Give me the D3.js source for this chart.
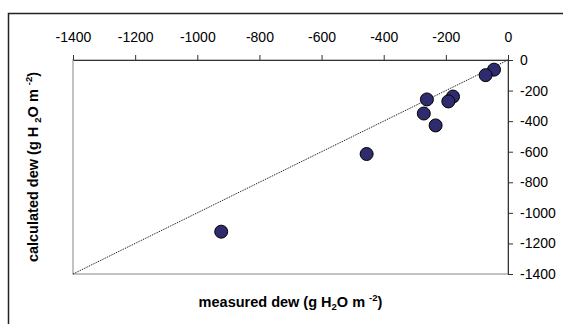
<!DOCTYPE html>
<html>
<head>
<meta charset="utf-8">
<script src="https://cdn.jsdelivr.net/npm/d3@7"></script>
<style>
  body { margin: 0; background: #fff; }
  svg { display: block; font-family: "Liberation Sans", Arial, sans-serif; }
</style>
</head>
<body>
<svg width="563" height="324"></svg>
<script>
// measured vs calculated dew, g H2O m-2
var measured   = [-45, -72, -261, -177, -192, -271, -233, -455, -923];
var calculated = [-63, -99, -258, -239, -271, -350, -428, -615, -1123];
var xTicks = [-1400, -1200, -1000, -800, -600, -400, -200, 0];
var yTicks = [0, -200, -400, -600, -800, -1000, -1200, -1400];

var svg = d3.select("svg");

// outer chart border (only left and top visible)
svg.append("rect")
    .attr("x", 8.5).attr("y", 13.5)
    .attr("width", 700).attr("height", 500)
    .attr("fill", "none")
    .attr("stroke", "#222")
    .attr("stroke-width", 1.5);

var x = d3.scaleLinear().domain([-1400, 0]).range([73, 508]);
var y = d3.scaleLinear().domain([-1400, 0]).range([274, 60]);
var fmt = function(d) { return String(d); };   // plain hyphen, no thousands comma

// plot area frame
svg.append("rect")
    .attr("x", x(-1400)).attr("y", y(0))
    .attr("width", x(0) - x(-1400)).attr("height", y(-1400) - y(0))
    .attr("fill", "none")
    .attr("stroke", "#9a9a9a")
    .attr("stroke-width", 1.2);

// 1:1 line
svg.append("line")
    .attr("x1", x(-1400)).attr("y1", y(-1400))
    .attr("x2", x(0)).attr("y2", y(0))
    .attr("stroke", "#000")
    .attr("stroke-width", 1)
    .attr("stroke-dasharray", "1,1");

svg.append("g")
    .attr("transform", "translate(0," + y(0) + ")")
    .call(d3.axisTop(x).tickValues(xTicks).tickFormat(fmt).tickSize(5).tickSizeOuter(0).tickPadding(13));

svg.append("g")
    .attr("transform", "translate(" + x(0) + ",0)")
    .call(d3.axisRight(y).tickValues(yTicks).tickFormat(fmt).tickSize(5).tickSizeOuter(0).tickPadding(7));

svg.selectAll(".tick text")
    .attr("font-size", 14)
    .attr("font-family", "Liberation Sans, Arial, sans-serif")
    .attr("fill", "#000");
svg.selectAll(".domain, .tick line").attr("stroke", "#333");

// points
svg.selectAll("circle")
    .data(measured)
  .enter()
  .append("circle")
    .attr("cx", function(d) { return x(d); })
    .attr("cy", function(d, i) { return y(calculated[i]); })
    .attr("r", 6.5)
    .attr("fill", "#2e2c6e")
    .attr("stroke", "#000")
    .attr("stroke-width", 1);

// x title
var xt = svg.append("text")
    .attr("x", (x(-1400) + x(0)) / 2)
    .attr("y", 307)
    .attr("text-anchor", "middle")
    .attr("font-size", 14.5)
    .attr("font-weight", "bold");
xt.append("tspan").text("measured dew (g H");
xt.append("tspan").attr("font-size", 9.5).attr("dy", 3).text("2");
xt.append("tspan").attr("dy", -3).text("O m ");
xt.append("tspan").attr("font-size", 9.5).attr("dy", -6).text("-2");
xt.append("tspan").attr("dy", 6).text(")");

// y title
var yt = svg.append("text")
    .attr("transform", "translate(38," + ((y(0) + y(-1400)) / 2) + ") rotate(-90)")
    .attr("text-anchor", "middle")
    .attr("font-size", 14.5)
    .attr("font-weight", "bold");
yt.append("tspan").text("calculated dew (g H ");
yt.append("tspan").attr("font-size", 9.5).attr("dy", 3).text("2");
yt.append("tspan").attr("dy", -3).text("O m ");
yt.append("tspan").attr("font-size", 9.5).attr("dy", -6).text("-2");
yt.append("tspan").attr("dy", 6).text(")");
</script>
</body>
</html>
